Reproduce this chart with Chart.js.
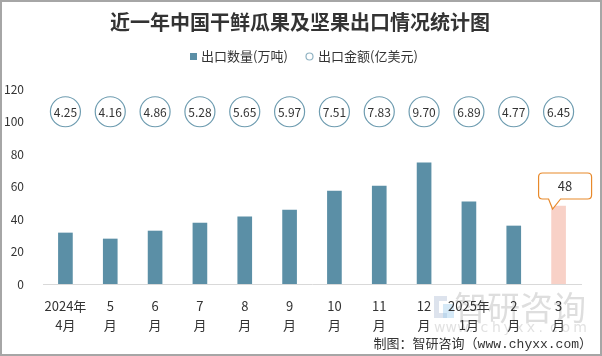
<!DOCTYPE html>
<html>
<head>
<meta charset="utf-8">
<script src="https://cdn.jsdelivr.net/npm/chart.js@4/dist/chart.umd.min.js"></script>
<style>
html,body{margin:0;padding:0;background:#fff;}
#wrap{width:602px;height:356px;position:relative;}
canvas{display:block;}
</style>
</head>
<body>
<div id="wrap"><canvas id="c" width="602" height="356"></canvas></div>
<script>
// ---- data ----
const categories = [
  ['2024年','4月'], ['5','月'], ['6','月'], ['7','月'], ['8','月'], ['9','月'],
  ['10','月'], ['11','月'], ['12','月'], ['2025年','1月'], ['2','月'], ['3','月']
];
const exportVolume = [31.4, 27.7, 32.6, 37.5, 41.4, 45.5, 57.2, 60.3, 74.5, 50.5, 35.7, 48];
const exportValue = [4.25, 4.16, 4.86, 5.28, 5.65, 5.97, 7.51, 7.83, 9.70, 6.89, 4.77, 6.45];
const yTicks = [0, 20, 40, 60, 80, 100, 120];
const seriesNames = ['出口数量(万吨)', '出口金额(亿美元)'];
const titleText = '近一年中国干鲜瓜果及坚果出口情况统计图';
const creditText = '制图：智研咨询（www.chyxx.com）';
const highlightLabel = '48';

// ---- style ----
const FONT = "'Noto Sans CJK SC','Liberation Sans',sans-serif";
const BAR = '#5B8FA6';
const BAR_HI = '#F8D1C7';
const CIRCLE = '#6E9CB0';
const TEXT = '#333333';
const CIRCLE_ROW = 106; // row position of the value circles (on the y scale)

const decorPlugin = {
  id: 'decor',
  beforeDraw(chart) {
    const ctx = chart.ctx;
    ctx.save();
    ctx.fillStyle = '#fff';
    ctx.fillRect(0, 0, chart.width, chart.height);
    // watermark logo
    ctx.fillStyle = 'rgba(170,185,210,0.4)';
    ctx.beginPath();
    ctx.moveTo(434, 296); ctx.lineTo(447, 296); ctx.lineTo(447, 301); ctx.lineTo(439, 301);
    ctx.lineTo(439, 313); ctx.lineTo(447, 313); ctx.lineTo(447, 318); ctx.lineTo(434, 318); ctx.closePath();
    ctx.fill();
    ctx.fillStyle = 'rgba(150,200,235,0.4)';
    ctx.fillRect(443, 304, 11, 14);
    ctx.fillStyle = 'rgba(190,190,190,0.5)';
    ctx.font = "33px " + FONT;
    ctx.textAlign = 'left';
    ctx.textBaseline = 'middle';
    ctx.fillText('智研咨询', 454, 307);
    ctx.font = "14px 'DejaVu Sans',sans-serif";
    ctx.fillStyle = 'rgba(200,200,200,0.55)';
    const w = 'www.chyxx.com'.split('');
    w.forEach((ch, i) => ctx.fillText(ch, 434 + i * 11.6, 328));
    ctx.restore();
  },
  afterDraw(chart) {
    const ctx = chart.ctx;
    ctx.save();
    // title
    ctx.fillStyle = TEXT;
    ctx.font = "bold 20px " + FONT;
    ctx.textAlign = 'center';
    ctx.textBaseline = 'middle';
    ctx.fillText(titleText, 300, 22);
    // legend
    ctx.font = "13px " + FONT;
    ctx.textAlign = 'left';
    ctx.fillStyle = BAR;
    ctx.fillRect(190, 53, 7, 7);
    ctx.fillStyle = TEXT;
    ctx.fillText(seriesNames[0], 201, 56.5);
    ctx.beginPath();
    ctx.arc(309.5, 56.5, 3.5, 0, Math.PI * 2);
    ctx.strokeStyle = '#8FB2C2';
    ctx.lineWidth = 1.2;
    ctx.stroke();
    ctx.fillText(seriesNames[1], 318, 56.5);
    // credit
    ctx.font = "13px 'Liberation Mono','Noto Sans CJK SC',monospace";
    ctx.textAlign = 'right';
    ctx.fillText(creditText, 592, 345);
    // frame
    ctx.strokeStyle = '#a6a6a6';
    ctx.lineWidth = 2;
    ctx.strokeRect(1, 1, 600, 354);
    ctx.restore();
  },
  afterDatasetsDraw(chart) {
    const ctx = chart.ctx;
    ctx.save();
    // value labels inside circles
    const meta = chart.getDatasetMeta(1);
    ctx.font = "12px " + FONT;
    ctx.fillStyle = TEXT;
    ctx.textAlign = 'center';
    ctx.textBaseline = 'middle';
    meta.data.forEach((pt, i) => {
      ctx.fillText(exportValue[i].toFixed(2), pt.x, pt.y + 0.5);
    });
    // callout on last bar
    const bm = chart.getDatasetMeta(0);
    const bar = bm.data[bm.data.length - 1];
    const bx = bar.x, by = bar.y;
    const left = bx - 20, right = bx + 33, top = by - 33, bottom = by - 7, r = 4;
    ctx.beginPath();
    ctx.moveTo(left + r, top);
    ctx.lineTo(right - r, top);
    ctx.quadraticCurveTo(right, top, right, top + r);
    ctx.lineTo(right, bottom - r);
    ctx.quadraticCurveTo(right, bottom, right - r, bottom);
    ctx.lineTo(bx + 2, bottom);
    ctx.lineTo(bx - 6, by + 3);
    ctx.lineTo(bx - 10, bottom);
    ctx.lineTo(left + r, bottom);
    ctx.quadraticCurveTo(left, bottom, left, bottom - r);
    ctx.lineTo(left, top + r);
    ctx.quadraticCurveTo(left, top, left + r, top);
    ctx.closePath();
    ctx.fillStyle = '#fff';
    ctx.fill();
    ctx.strokeStyle = '#E8892B';
    ctx.lineWidth = 1.2;
    ctx.stroke();
    ctx.fillStyle = TEXT;
    ctx.font = "13px " + FONT;
    ctx.fillText(highlightLabel, (left + right) / 2, (top + bottom) / 2);
    ctx.restore();
  }
};

new Chart(document.getElementById('c'), {
  data: {
    labels: categories,
    datasets: [
      {
        type: 'bar',
        label: seriesNames[0],
        data: exportVolume,
        backgroundColor: exportVolume.map((v, i) => i === exportVolume.length - 1 ? BAR_HI : BAR),
        barThickness: 14,
        order: 2
      },
      {
        type: 'line',
        label: seriesNames[1],
        data: exportValue.map(() => CIRCLE_ROW),
        showLine: false,
        pointRadius: 15,
        pointHoverRadius: 15,
        pointBackgroundColor: '#fff',
        pointBorderColor: CIRCLE,
        pointBorderWidth: 1.2,
        order: 1
      }
    ]
  },
  options: {
    responsive: false,
    animation: false,
    devicePixelRatio: 1,
    events: [],
    layout: { padding: { top: 89, right: 21, bottom: 0, left: 0 } },
    plugins: { legend: { display: false }, title: { display: false }, tooltip: { enabled: false } },
    scales: {
      x: {
        grid: { display: false },
        border: { display: true, color: '#d9d9d9', width: 1 },
        ticks: {
          font: { size: 13, family: FONT, lineHeight: 19 / 13 },
          color: TEXT, padding: 5, maxRotation: 0, autoSkip: false
        },
        afterFit(s) { s.height = 72; }
      },
      y: {
        min: yTicks[0], max: yTicks[yTicks.length - 1],
        afterBuildTicks(s) { s.ticks = yTicks.map(v => ({ value: v })); },
        grid: { display: false },
        border: { display: false },
        ticks: { font: { size: 12, family: FONT }, color: TEXT, padding: 11 },
        afterFit(s) { s.width = 43; }
      }
    }
  },
  plugins: [decorPlugin]
});
</script>
</body>
</html>
